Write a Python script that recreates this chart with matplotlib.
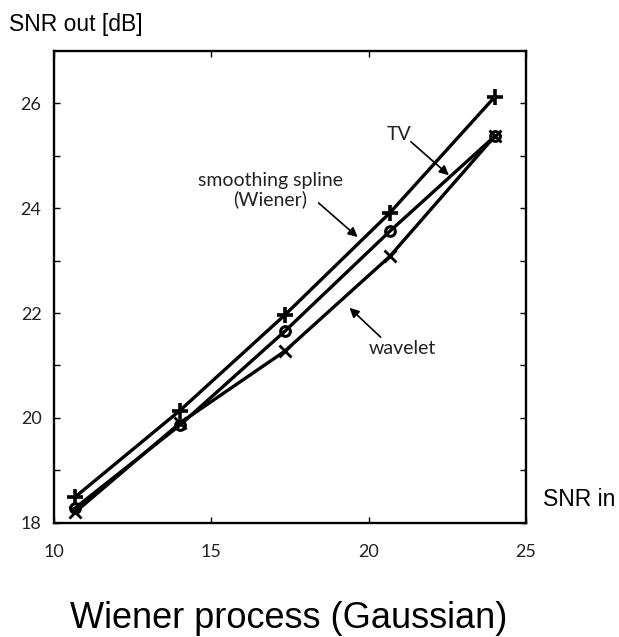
import matplotlib
matplotlib.use("Agg")
import matplotlib.pyplot as plt
import numpy as np

# SNR in [dB]
snr_in = [10.67, 14.0, 17.33, 20.67, 24.0]
# SNR out [dB] for each denoiser
spline = [18.49, 20.14, 21.96, 23.91, 26.12]   # smoothing spline (Wiener), '+'
tv = [18.28, 19.86, 21.65, 23.56, 25.37]       # TV, 'o'
wavelet = [18.20, 19.90, 21.27, 23.08, 25.37]  # wavelet, 'x'

xticks = [10, 15, 20, 25]
yticks = [18, 19, 20, 21, 22, 23, 24, 25, 26]
ylabels = ["18", "", "20", "", "22", "", "24", "", "26"]

fig = plt.figure(figsize=(6.19, 6.37), dpi=100)
ax = fig.add_axes([54/619, 1-522.7/637, 472/619, 471.7/637])

ax.plot(snr_in, spline, color="black", lw=2.4, marker="+", ms=11, mew=2.6)
ax.plot(snr_in, tv, color="black", lw=2.4, marker="o", ms=7, mew=2.2, mfc="none")
ax.plot(snr_in, wavelet, color="black", lw=2.4, marker="x", ms=8, mew=2.0)

ax.set_xlim(10, 25)
ax.set_ylim(18, 27)
ax.set_xticks(xticks)
ax.set_yticks(yticks)
ax.set_yticklabels(ylabels)
ax.tick_params(direction="in", length=4, width=1, top=True, right=True,
               labelsize=13, colors="black")
ax.tick_params(axis="x", pad=15)
ax.tick_params(axis="y", pad=9)
for lab in ax.get_xticklabels() + ax.get_yticklabels():
    lab.set_family("Lato")
    lab.set_color("#222222")
for s in ax.spines.values():
    s.set_linewidth(1.7)

arr = dict(arrowstyle="-|>", color="black", lw=1.2, mutation_scale=14,
           shrinkA=0, shrinkB=0)
ax.text(20.97, 25.40, "TV", ha="center", va="center", fontsize=14,
        family="Lato", color="#222222")
ax.annotate("", xy=(22.55, 24.63), xytext=(21.34, 25.27), arrowprops=arr)
ax.text(16.88, 24.34, "smoothing spline\n(Wiener)", ha="center", va="center",
        fontsize=14, family="Lato", color="#222222", linespacing=1.1)
ax.annotate("", xy=(19.65, 23.45), xytext=(18.41, 24.10), arrowprops=arr)
ax.text(21.08, 21.32, "wavelet", ha="center", va="center", fontsize=14,
        family="Lato", color="#222222")
ax.annotate("", xy=(19.39, 22.10), xytext=(20.38, 21.54), arrowprops=arr)

fig.text(9/619, 1-25/637, "SNR out [dB]", ha="left", va="center",
         fontsize=16.5, family="Liberation Sans")
fig.text(543/619, 1-500/637, "SNR in", ha="left", va="center",
         fontsize=16.5, family="Liberation Sans")
fig.text(288.5/619, 1-618/637, "Wiener process (Gaussian)", ha="center",
         va="center", fontsize=26, family="Liberation Sans")

fig.savefig("out.png", dpi=100)
